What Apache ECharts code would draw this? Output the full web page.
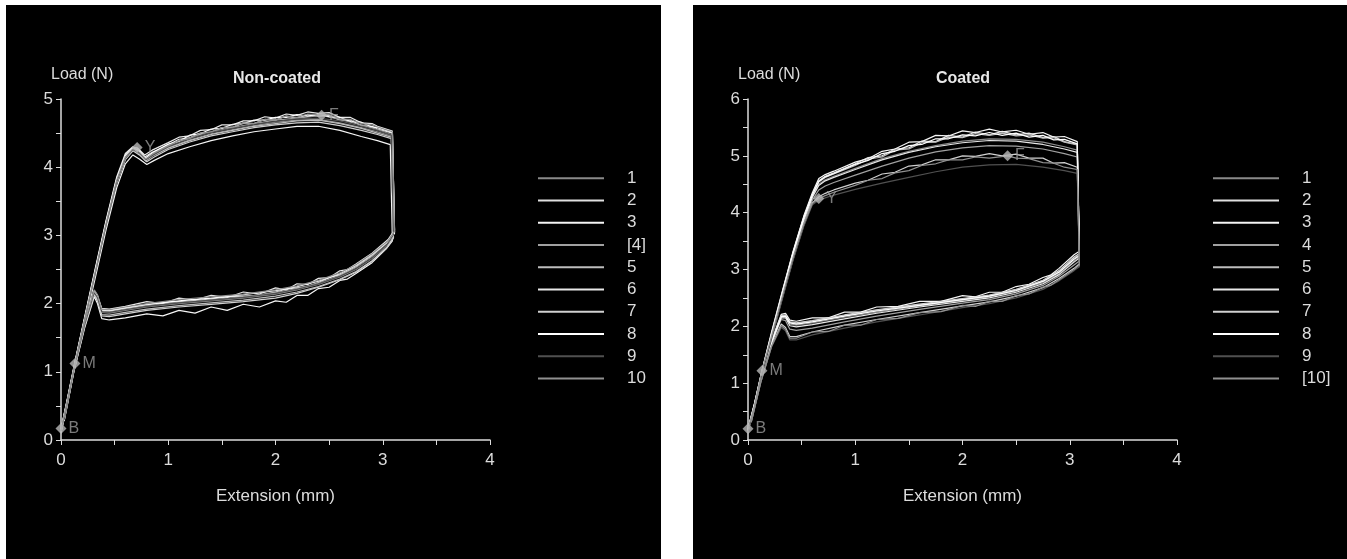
<!DOCTYPE html>
<html>
<head>
<meta charset="utf-8">
<script src="https://cdn.jsdelivr.net/npm/echarts@6/dist/echarts.min.js"></script>
<style>
  html, body { margin: 0; background: #fff; }
  #left { position: absolute; left: 6px; top: 5px; width: 655px; height: 554px; background: #000; }
  #right { position: absolute; left: 693px; top: 5px; width: 654px; height: 554px; background: #000; }
</style>
</head>
<body>
<div id="left"></div>
<div id="right"></div>
<script>
// specimen line greys, same order as the legend
const lineColors = ["#8a8a8a", "#e0e0e0", "#f5f5f5", "#a0a0a0", "#bcbcbc", "#e8e8e8", "#d0d0d0", "#ffffff", "#505050", "#909090"];
const markLabels = ["B", "M", "Y", "F"];

// ---- Non-coated ----
const nonCoatedNames = ["1", "2", "3", "[4]", "5", "6", "7", "8", "9", "10"];
const nc1 = [[0,0.12],[0.06,0.56],[0.13,1.1],[0.22,1.74],[0.32,2.44],[0.42,3.14],[0.52,3.78],[0.6,4.12],[0.67,4.25],[0.73,4.21],[0.79,4.1],[0.86,4.19],[1.0,4.29],[1.2,4.4],[1.4,4.49],[1.6,4.55],[1.8,4.61],[2.0,4.66],[2.2,4.69],[2.4,4.7],[2.6,4.65],[2.8,4.58],[2.95,4.52],[3.08,4.46],[3.1,3.02],[3.04,2.86],[2.9,2.66],[2.75,2.5],[2.6,2.39],[2.4,2.28],[2.2,2.2],[2.0,2.14],[1.7,2.08],[1.4,2.04],[1.1,2.0],[0.8,1.95],[0.6,1.9],[0.45,1.86],[0.38,1.87],[0.34,2.08],[0.31,2.15],[0.22,1.68],[0.12,1.02],[0.03,0.3]];
const nc2 = [[0,0.15],[0.06,0.6],[0.13,1.14],[0.22,1.78],[0.32,2.5],[0.42,3.2],[0.52,3.84],[0.6,4.18],[0.67,4.29],[0.72,4.25],[0.78,4.15],[0.85,4.22],[1.0,4.33],[1.1,4.41],[1.2,4.43],[1.3,4.5],[1.4,4.51],[1.5,4.58],[1.6,4.58],[1.7,4.65],[1.8,4.64],[1.9,4.7],[2.0,4.69],[2.1,4.75],[2.2,4.72],[2.3,4.77],[2.4,4.75],[2.5,4.76],[2.6,4.69],[2.7,4.69],[2.8,4.61],[2.9,4.6],[2.95,4.56],[3.09,4.5],[3.11,3.05],[3.05,2.9],[2.9,2.7],[2.75,2.54],[2.6,2.42],[2.5,2.38],[2.4,2.31],[2.3,2.25],[2.2,2.23],[2.1,2.21],[2.0,2.17],[1.85,2.12],[1.7,2.11],[1.55,2.1],[1.4,2.07],[1.25,2.04],[1.1,2.03],[0.95,2.02],[0.8,1.98],[0.6,1.93],[0.45,1.89],[0.38,1.9],[0.34,2.1],[0.31,2.17],[0.22,1.7],[0.12,1.04],[0.03,0.32]];
const nc3 = [[0,0.1],[0.06,0.52],[0.13,1.08],[0.22,1.7],[0.32,2.38],[0.42,3.08],[0.52,3.7],[0.6,4.05],[0.67,4.18],[0.73,4.12],[0.8,4.04],[0.87,4.1],[1.0,4.2],[1.2,4.3],[1.4,4.39],[1.6,4.46],[1.8,4.52],[2.0,4.56],[2.2,4.6],[2.4,4.6],[2.6,4.54],[2.8,4.45],[2.95,4.39],[3.07,4.33],[3.09,2.92],[3.03,2.8],[2.9,2.6],[2.75,2.44],[2.67,2.36],[2.6,2.34],[2.5,2.24],[2.4,2.22],[2.3,2.12],[2.2,2.12],[2.1,2.02],[2.0,2.04],[1.85,1.95],[1.7,1.99],[1.55,1.9],[1.4,1.95],[1.25,1.86],[1.1,1.9],[0.95,1.82],[0.8,1.85],[0.6,1.79],[0.45,1.76],[0.38,1.78],[0.34,2.0],[0.31,2.1],[0.22,1.64],[0.12,1.0],[0.03,0.28]];
const nc4 = [[0,0.17],[0.06,0.6],[0.13,1.12],[0.22,1.77],[0.32,2.48],[0.42,3.18],[0.52,3.82],[0.6,4.16],[0.66,4.27],[0.71,4.29],[0.79,4.13],[0.86,4.21],[1.0,4.32],[1.2,4.43],[1.4,4.52],[1.6,4.58],[1.8,4.64],[2.0,4.69],[2.2,4.72],[2.43,4.76],[2.6,4.7],[2.8,4.62],[2.95,4.55],[3.08,4.48],[3.1,3.0],[3.04,2.88],[2.9,2.69],[2.75,2.53],[2.6,2.41],[2.4,2.3],[2.2,2.22],[2.0,2.16],[1.7,2.1],[1.4,2.06],[1.1,2.02],[0.8,1.97],[0.6,1.92],[0.45,1.88],[0.38,1.89],[0.34,2.11],[0.31,2.18],[0.22,1.7],[0.12,1.04],[0.03,0.31]];
const nc5 = [[0,0.13],[0.06,0.57],[0.13,1.11],[0.22,1.76],[0.32,2.46],[0.42,3.16],[0.52,3.8],[0.6,4.14],[0.67,4.27],[0.73,4.2],[0.79,4.09],[0.86,4.17],[1.0,4.28],[1.2,4.39],[1.4,4.48],[1.6,4.54],[1.8,4.6],[2.0,4.64],[2.2,4.68],[2.4,4.69],[2.6,4.64],[2.8,4.57],[2.95,4.5],[3.08,4.44],[3.1,2.98],[3.04,2.83],[2.9,2.63],[2.75,2.47],[2.6,2.36],[2.4,2.25],[2.2,2.17],[2.0,2.11],[1.7,2.05],[1.4,2.01],[1.1,1.97],[0.8,1.92],[0.6,1.87],[0.45,1.83],[0.38,1.84],[0.34,2.06],[0.31,2.14],[0.22,1.67],[0.12,1.01],[0.03,0.29]];
const nc6 = [[0,0.16],[0.06,0.61],[0.13,1.15],[0.22,1.8],[0.32,2.52],[0.42,3.22],[0.52,3.86],[0.6,4.2],[0.67,4.3],[0.72,4.27],[0.78,4.18],[0.85,4.25],[1.0,4.36],[1.1,4.44],[1.2,4.46],[1.3,4.54],[1.4,4.55],[1.5,4.62],[1.6,4.62],[1.7,4.68],[1.8,4.68],[1.9,4.74],[2.0,4.72],[2.1,4.78],[2.2,4.76],[2.3,4.81],[2.4,4.79],[2.5,4.8],[2.6,4.73],[2.7,4.73],[2.8,4.65],[2.9,4.64],[2.95,4.6],[3.09,4.53],[3.11,3.08],[3.05,2.94],[2.9,2.74],[2.75,2.58],[2.67,2.5],[2.6,2.48],[2.5,2.38],[2.4,2.37],[2.3,2.28],[2.2,2.29],[2.1,2.2],[2.0,2.23],[1.85,2.14],[1.7,2.17],[1.55,2.09],[1.4,2.12],[1.25,2.05],[1.1,2.08],[0.95,2.0],[0.8,2.03],[0.6,1.96],[0.45,1.92],[0.38,1.93],[0.34,2.12],[0.31,2.19],[0.22,1.72],[0.12,1.05],[0.03,0.33]];
const nc7 = [[0,0.12],[0.06,0.55],[0.13,1.1],[0.22,1.73],[0.32,2.43],[0.42,3.13],[0.52,3.77],[0.6,4.11],[0.67,4.24],[0.73,4.18],[0.8,4.08],[0.87,4.15],[1.0,4.26],[1.2,4.37],[1.4,4.46],[1.6,4.52],[1.8,4.58],[2.0,4.62],[2.2,4.65],[2.4,4.66],[2.6,4.61],[2.8,4.54],[2.95,4.48],[3.08,4.42],[3.1,2.96],[3.04,2.82],[2.9,2.62],[2.75,2.46],[2.6,2.35],[2.4,2.24],[2.2,2.15],[2.0,2.08],[1.7,2.03],[1.4,1.99],[1.1,1.95],[0.8,1.9],[0.6,1.85],[0.45,1.81],[0.38,1.82],[0.34,2.04],[0.31,2.13],[0.22,1.66],[0.12,1.01],[0.03,0.29]];
const nc8 = [[0,0.15],[0.06,0.59],[0.13,1.13],[0.22,1.78],[0.32,2.49],[0.42,3.19],[0.52,3.83],[0.6,4.17],[0.67,4.28],[0.73,4.24],[0.79,4.14],[0.86,4.22],[1.0,4.34],[1.1,4.38],[1.2,4.47],[1.3,4.49],[1.4,4.56],[1.5,4.57],[1.6,4.63],[1.7,4.64],[1.8,4.69],[1.9,4.69],[2.0,4.73],[2.1,4.73],[2.2,4.77],[2.3,4.75],[2.4,4.78],[2.5,4.74],[2.6,4.73],[2.7,4.67],[2.8,4.66],[2.9,4.59],[2.95,4.58],[3.09,4.51],[3.11,3.03],[3.05,2.91],[2.9,2.72],[2.75,2.56],[2.6,2.44],[2.4,2.33],[2.2,2.25],[2.0,2.19],[1.7,2.13],[1.4,2.08],[1.1,2.04],[0.8,1.99],[0.6,1.94],[0.45,1.9],[0.38,1.91],[0.34,2.1],[0.31,2.17],[0.22,1.71],[0.12,1.04],[0.03,0.32]];
const nc9 = [[0,0.13],[0.06,0.57],[0.13,1.11],[0.22,1.75],[0.32,2.45],[0.42,3.15],[0.52,3.79],[0.6,4.13],[0.67,4.26],[0.73,4.21],[0.79,4.11],[0.86,4.18],[1.0,4.3],[1.2,4.42],[1.4,4.51],[1.6,4.57],[1.8,4.63],[2.0,4.67],[2.2,4.71],[2.4,4.72],[2.6,4.68],[2.8,4.6],[2.95,4.54],[3.08,4.47],[3.1,3.01],[3.04,2.87],[2.9,2.67],[2.75,2.51],[2.6,2.4],[2.4,2.29],[2.2,2.21],[2.0,2.15],[1.7,2.09],[1.4,2.05],[1.1,2.01],[0.8,1.96],[0.6,1.91],[0.45,1.87],[0.38,1.88],[0.34,2.09],[0.31,2.16],[0.22,1.69],[0.12,1.03],[0.03,0.3]];
const nc10 = [[0,0.14],[0.06,0.58],[0.13,1.12],[0.22,1.76],[0.32,2.47],[0.42,3.17],[0.52,3.81],[0.6,4.15],[0.67,4.27],[0.73,4.22],[0.79,4.12],[0.86,4.2],[1.0,4.31],[1.1,4.39],[1.2,4.42],[1.3,4.5],[1.4,4.52],[1.5,4.58],[1.6,4.59],[1.7,4.65],[1.8,4.64],[1.9,4.7],[2.0,4.69],[2.1,4.75],[2.2,4.73],[2.3,4.78],[2.4,4.77],[2.5,4.77],[2.6,4.71],[2.7,4.7],[2.8,4.64],[2.9,4.62],[2.95,4.59],[3.09,4.52],[3.11,3.06],[3.05,2.92],[2.9,2.73],[2.75,2.57],[2.6,2.45],[2.4,2.34],[2.2,2.26],[2.0,2.2],[1.7,2.14],[1.4,2.1],[1.1,2.06],[0.8,2.0],[0.6,1.95],[0.45,1.91],[0.38,1.92],[0.34,2.13],[0.31,2.2],[0.22,1.72],[0.12,1.05],[0.03,0.33]];
const nonCoatedMarks = [[0,0.17],[0.13,1.12],[0.71,4.29],[2.43,4.76]];

// ---- Coated ----
const coatedNames = ["1", "2", "3", "4", "5", "6", "7", "8", "9", "[10]"];
const c1 = [[0,0.17],[0.06,0.6],[0.13,1.18],[0.22,1.84],[0.32,2.55],[0.42,3.24],[0.52,3.86],[0.6,4.28],[0.66,4.5],[0.72,4.58],[0.8,4.64],[1.0,4.78],[1.25,4.95],[1.5,5.08],[1.75,5.18],[2.0,5.26],[2.25,5.3],[2.5,5.29],[2.75,5.24],[2.95,5.16],[3.07,5.1],[3.09,3.22],[3.04,3.15],[2.9,2.93],[2.75,2.77],[2.5,2.62],[2.25,2.52],[2.0,2.46],[1.6,2.36],[1.2,2.25],[0.9,2.16],[0.6,2.06],[0.45,2.02],[0.39,2.04],[0.35,2.17],[0.31,2.16],[0.22,1.72],[0.12,1.06],[0.03,0.35]];
const c2 = [[0,0.19],[0.06,0.63],[0.13,1.21],[0.22,1.88],[0.32,2.6],[0.42,3.3],[0.52,3.92],[0.6,4.32],[0.66,4.56],[0.72,4.64],[0.8,4.7],[1.0,4.86],[1.12,4.97],[1.25,5.0],[1.37,5.12],[1.5,5.14],[1.62,5.26],[1.75,5.25],[1.87,5.36],[2.0,5.33],[2.12,5.42],[2.25,5.37],[2.37,5.43],[2.5,5.37],[2.62,5.4],[2.75,5.32],[2.85,5.34],[2.95,5.25],[3.07,5.2],[3.09,3.28],[3.04,3.22],[2.9,2.98],[2.75,2.81],[2.5,2.65],[2.25,2.55],[2.0,2.49],[1.6,2.39],[1.2,2.29],[0.9,2.2],[0.6,2.1],[0.45,2.06],[0.39,2.08],[0.35,2.2],[0.31,2.19],[0.22,1.74],[0.12,1.08],[0.03,0.36]];
const c3 = [[0,0.2],[0.06,0.64],[0.13,1.22],[0.22,1.9],[0.32,2.62],[0.42,3.32],[0.52,3.94],[0.6,4.35],[0.66,4.6],[0.72,4.67],[0.8,4.73],[1.0,4.89],[1.12,4.95],[1.25,5.08],[1.37,5.12],[1.5,5.24],[1.62,5.25],[1.75,5.36],[1.87,5.35],[2.0,5.44],[2.12,5.41],[2.25,5.47],[2.37,5.42],[2.5,5.45],[2.62,5.38],[2.75,5.41],[2.85,5.33],[2.95,5.34],[3.07,5.25],[3.09,3.32],[3.04,3.26],[2.9,3.02],[2.82,2.9],[2.75,2.86],[2.62,2.74],[2.5,2.7],[2.37,2.6],[2.25,2.6],[2.12,2.52],[2.0,2.54],[1.8,2.44],[1.6,2.44],[1.4,2.35],[1.2,2.34],[1.05,2.25],[0.9,2.25],[0.75,2.15],[0.6,2.15],[0.45,2.09],[0.39,2.11],[0.35,2.23],[0.31,2.21],[0.22,1.75],[0.12,1.09],[0.03,0.37]];
const c4 = [[0,0.16],[0.06,0.59],[0.13,1.17],[0.22,1.82],[0.32,2.52],[0.42,3.2],[0.52,3.82],[0.6,4.22],[0.66,4.4],[0.72,4.47],[0.8,4.53],[1.0,4.66],[1.25,4.82],[1.5,4.96],[1.75,5.07],[2.0,5.14],[2.25,5.18],[2.5,5.17],[2.75,5.12],[2.95,5.04],[3.07,4.98],[3.09,3.15],[3.04,3.08],[2.9,2.88],[2.75,2.72],[2.5,2.57],[2.25,2.47],[2.0,2.41],[1.6,2.3],[1.2,2.18],[0.9,2.08],[0.6,1.97],[0.45,1.93],[0.39,1.95],[0.35,2.1],[0.31,2.12],[0.22,1.7],[0.12,1.05],[0.03,0.34]];
const c5 = [[0,0.18],[0.06,0.62],[0.13,1.2],[0.22,1.86],[0.32,2.58],[0.42,3.27],[0.52,3.9],[0.6,4.3],[0.66,4.54],[0.72,4.62],[0.8,4.68],[1.0,4.83],[1.12,4.94],[1.25,4.98],[1.37,5.1],[1.5,5.12],[1.62,5.23],[1.75,5.24],[1.87,5.33],[2.0,5.32],[2.12,5.39],[2.25,5.36],[2.37,5.4],[2.5,5.35],[2.62,5.37],[2.75,5.31],[2.85,5.32],[2.95,5.24],[3.07,5.19],[3.09,3.26],[3.04,3.2],[2.9,2.96],[2.75,2.8],[2.5,2.64],[2.25,2.54],[2.0,2.48],[1.6,2.38],[1.2,2.28],[0.9,2.19],[0.6,2.09],[0.45,2.05],[0.39,2.07],[0.35,2.19],[0.31,2.18],[0.22,1.73],[0.12,1.07],[0.03,0.35]];
const c6 = [[0,0.17],[0.06,0.61],[0.13,1.19],[0.22,1.85],[0.32,2.56],[0.42,3.25],[0.52,3.87],[0.6,4.27],[0.66,4.48],[0.72,4.56],[0.8,4.62],[1.0,4.76],[1.25,4.93],[1.5,5.06],[1.75,5.16],[2.0,5.23],[2.25,5.27],[2.5,5.26],[2.75,5.2],[2.95,5.12],[3.07,5.06],[3.09,3.2],[3.04,3.13],[2.9,2.91],[2.75,2.75],[2.5,2.6],[2.25,2.5],[2.0,2.44],[1.6,2.34],[1.2,2.23],[0.9,2.13],[0.6,2.03],[0.45,1.99],[0.39,2.01],[0.35,2.15],[0.31,2.15],[0.22,1.71],[0.12,1.06],[0.03,0.34]];
const c7 = [[0,0.15],[0.06,0.58],[0.13,1.16],[0.22,1.8],[0.32,2.5],[0.42,3.18],[0.52,3.78],[0.6,4.17],[0.66,4.28],[0.72,4.34],[0.8,4.4],[1.0,4.52],[1.12,4.57],[1.25,4.68],[1.37,4.71],[1.5,4.82],[1.62,4.84],[1.75,4.93],[1.87,4.93],[2.0,5.0],[2.12,4.99],[2.25,5.04],[2.37,5.0],[2.5,5.03],[2.62,4.96],[2.75,4.96],[2.85,4.87],[2.95,4.88],[3.07,4.8],[3.09,3.1],[3.04,3.02],[2.9,2.84],[2.75,2.68],[2.5,2.53],[2.25,2.43],[2.0,2.36],[1.6,2.24],[1.2,2.12],[0.9,2.02],[0.6,1.9],[0.45,1.82],[0.39,1.82],[0.35,1.98],[0.31,2.04],[0.22,1.66],[0.12,1.03],[0.03,0.32]];
const c8 = [[0,0.19],[0.06,0.63],[0.13,1.21],[0.22,1.87],[0.32,2.59],[0.42,3.29],[0.52,3.91],[0.6,4.31],[0.66,4.55],[0.72,4.63],[0.8,4.69],[1.0,4.85],[1.12,4.92],[1.25,5.04],[1.37,5.08],[1.5,5.18],[1.62,5.2],[1.75,5.3],[1.87,5.3],[2.0,5.37],[2.12,5.35],[2.25,5.41],[2.37,5.36],[2.5,5.4],[2.62,5.33],[2.75,5.36],[2.85,5.28],[2.95,5.29],[3.07,5.21],[3.09,3.24],[3.04,3.18],[2.9,2.95],[2.75,2.79],[2.5,2.63],[2.25,2.53],[2.0,2.47],[1.6,2.37],[1.2,2.27],[0.9,2.18],[0.6,2.08],[0.45,2.04],[0.39,2.06],[0.35,2.18],[0.31,2.17],[0.22,1.73],[0.12,1.07],[0.03,0.35]];
const c9 = [[0,0.14],[0.06,0.57],[0.13,1.15],[0.22,1.78],[0.32,2.48],[0.42,3.16],[0.52,3.76],[0.6,4.14],[0.66,4.22],[0.72,4.26],[0.8,4.31],[1.0,4.41],[1.25,4.52],[1.5,4.62],[1.75,4.72],[2.0,4.8],[2.25,4.84],[2.5,4.85],[2.75,4.8],[2.95,4.74],[3.07,4.69],[3.09,3.05],[3.04,2.98],[2.9,2.8],[2.75,2.65],[2.5,2.5],[2.25,2.4],[2.0,2.33],[1.6,2.2],[1.2,2.08],[0.9,1.97],[0.6,1.85],[0.45,1.76],[0.39,1.76],[0.35,1.92],[0.31,1.98],[0.22,1.64],[0.12,1.02],[0.03,0.31]];
const c10 = [[0,0.2],[0.06,0.6],[0.13,1.22],[0.22,1.83],[0.32,2.53],[0.42,3.21],[0.52,3.8],[0.6,4.16],[0.66,4.25],[0.72,4.3],[0.8,4.36],[1.0,4.48],[1.12,4.57],[1.25,4.6],[1.37,4.7],[1.5,4.74],[1.62,4.83],[1.75,4.86],[1.87,4.93],[2.0,4.93],[2.12,4.98],[2.25,4.96],[2.42,5.0],[2.5,4.96],[2.62,4.95],[2.75,4.88],[2.85,4.87],[2.95,4.8],[3.07,4.76],[3.09,3.08],[3.04,3.0],[2.9,2.82],[2.82,2.72],[2.75,2.69],[2.62,2.57],[2.5,2.54],[2.37,2.44],[2.25,2.44],[2.12,2.35],[2.0,2.37],[1.8,2.26],[1.6,2.24],[1.4,2.14],[1.2,2.12],[1.05,2.02],[0.9,2.02],[0.75,1.91],[0.6,1.9],[0.45,1.79],[0.39,1.79],[0.35,1.95],[0.31,2.01],[0.22,1.65],[0.12,1.02],[0.03,0.31]];
const coatedMarks = [[0,0.2],[0.13,1.22],[0.66,4.25],[2.42,5.0]];

const FONT = "'Liberation Sans', Arial, sans-serif";
const TXT = "#dcdcdc";

function buildOption(title, titleX, legendX, yMax, names, curves, marks) {
  let series = curves.map((d, i) => {
    return {
      name: names[i],
      type: "line",
      data: d,
      symbol: "none",
      showSymbol: false,
      animation: false,
      color: lineColors[i],
      lineStyle: { width: 1.2, color: lineColors[i] }
    };
  });
  series.push({
    name: "marks",
    type: "scatter",
    data: marks,
    symbol: "diamond",
    symbolSize: 11,
    z: 5,
    itemStyle: { color: "#b8b8b8" },
    label: {
      show: true,
      position: "right",
      distance: 2,
      color: "#9a9a9a",
      fontSize: 16,
      fontFamily: FONT,
      formatter: p => markLabels[p.dataIndex]
    }
  });
  return {
    backgroundColor: "#000",
    animation: false,
    title: {
      text: title,
      left: titleX,
      top: 61,
      textAlign: "center",
      textStyle: { color: "#e8e8e8", fontSize: 16, fontWeight: "bold", fontFamily: FONT }
    },
    grid: { left: 55, top: 94, width: 429, height: 341 },
    legend: {
      orient: "vertical",
      left: legendX,
      top: 159,
      icon: "rect",
      itemWidth: 66,
      itemHeight: 2,
      itemGap: 4,
      data: names,
      selectedMode: false,
      textStyle: { color: TXT, fontSize: 17, lineHeight: 18.25, padding: [0, 0, 0, 18], fontFamily: FONT }
    },
    xAxis: {
      type: "value",
      min: 0,
      max: 4,
      interval: 0.5,
      name: "Extension (mm)",
      nameLocation: "middle",
      nameGap: 48,
      nameTextStyle: { color: TXT, fontSize: 17, fontFamily: FONT },
      axisLine: { lineStyle: { color: TXT, width: 1.5 } },
      axisTick: { length: 5, lineStyle: { color: TXT } },
      axisLabel: {
        color: TXT,
        fontSize: 17,
        margin: 12,
        fontFamily: FONT,
        formatter: v => (Number.isInteger(v) ? String(v) : "")
      },
      splitLine: { show: false }
    },
    yAxis: {
      type: "value",
      min: 0,
      max: yMax,
      interval: 0.5,
      name: "Load (N)",
      nameLocation: "end",
      nameGap: 16,
      nameTextStyle: { color: TXT, fontSize: 16, fontFamily: FONT, align: "left", padding: [0, 0, 0, -10] },
      axisLine: { show: true, lineStyle: { color: TXT, width: 1.5 } },
      axisTick: { show: true, length: 5, lineStyle: { color: TXT } },
      axisLabel: {
        color: TXT,
        fontSize: 17,
        margin: 8,
        fontFamily: FONT,
        formatter: v => (Number.isInteger(v) ? String(v) : "")
      },
      splitLine: { show: false }
    },
    series: series
  };
}

const leftChart = echarts.init(document.getElementById("left"));
leftChart.setOption(buildOption("Non-coated", 266, 527, 5, nonCoatedNames,
  [nc1, nc2, nc3, nc4, nc5, nc6, nc7, nc8, nc9, nc10], nonCoatedMarks));

const rightChart = echarts.init(document.getElementById("right"));
rightChart.setOption(buildOption("Coated", 265, 515, 6, coatedNames,
  [c1, c2, c3, c4, c5, c6, c7, c8, c9, c10], coatedMarks));
</script>
</body>
</html>
